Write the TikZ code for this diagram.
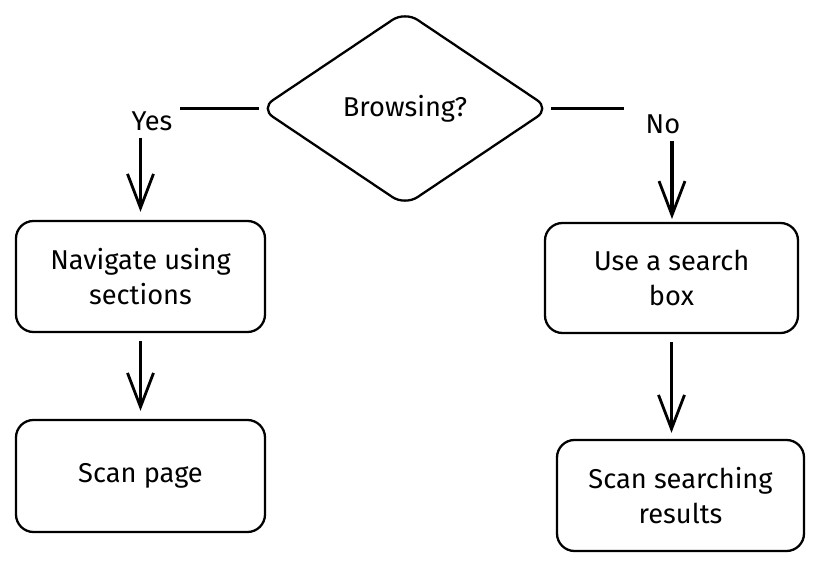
\documentclass[tikz,border=0pt]{standalone}
\usepackage{fontspec}
\setmainfont{Fira Sans}
\usepackage{tikz}
\usetikzlibrary{arrows.meta, positioning, shapes.geometric}

\tikzset{
  stepbox/.style   = {draw, line width=1.3pt, rounded corners=0.35cm, align=center, font=\fontsize{15.5}{19.5}\selectfont},
  choice/.style    = {draw, diamond, line width=1.3pt, rounded corners=0.3cm, minimum width=5.8cm, minimum height=3.9cm, inner sep=0pt, font=\fontsize{15.5}{19.5}\selectfont},
  tag/.style       = {font=\fontsize{15.5}{19.5}\selectfont, inner sep=4pt},
  wire/.style      = {line width=1.8pt},
  arr/.style       = {line width=1.8pt, -{Straight Barb[length=0.68cm, width=0.52cm, line width=1.6pt]}},
}

\begin{document}
\begin{tikzpicture}[]
\useasboundingbox (0,0) rectangle (16.36,-11.32);

\node [choice                                              ] at (8.10,-2.17) (browse) {Browsing?};
\node [tag                                                 ] at (3.04,-2.42) (yes)    {Yes};
\node [tag                                                 ] at (13.26,-2.48) (no)    {No};

\node [stepbox, minimum width=4.98cm, minimum height=2.22cm] at (2.81,-5.53) (nav)    {Navigate using\\sections};
\node [stepbox, minimum width=4.98cm, minimum height=2.24cm] at (2.81,-9.52) (scanp)  {Scan page};

\node [stepbox, minimum width=5.06cm, minimum height=2.20cm] at (13.43,-5.56) (search) {Use a search\\box};
\node [stepbox, minimum width=4.94cm, minimum height=2.22cm] at (13.61,-9.91) (results) {Scan searching\\results};

\path [draw, wire] (browse.west) -- (browse.west -| yes.east);
\path [draw, wire, shorten >=0.28cm] (browse.east) -- (browse.east -| no.west);

\path [draw, arr, shorten >=0.16cm] (yes.south -| nav.north) -- (nav.north);
\path [draw, arr, shorten >=0.08cm] (no.south -| 13.44,0) -- (13.44,-4.46);
\path [draw, arr, shorten <=0.16cm, shorten >=0.16cm] (nav.south) -- (nav.south |- scanp.north);
\path [draw, arr, shorten <=0.16cm, shorten >=0.12cm] (search.south) -- (search.south |- results.north);

\end{tikzpicture}
\end{document}
